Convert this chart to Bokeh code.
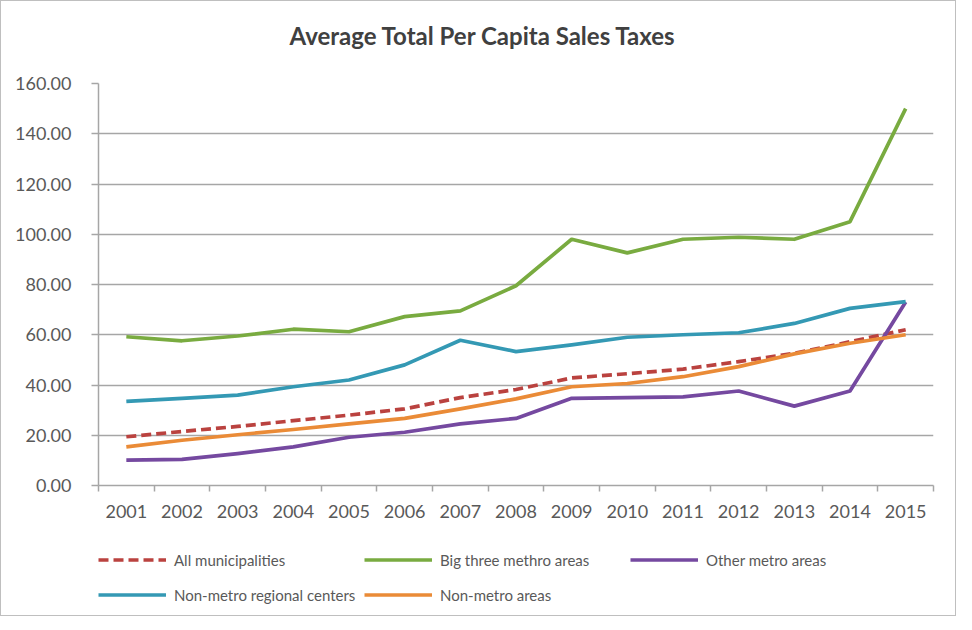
from bokeh.plotting import figure
from bokeh.layouts import column
from bokeh.models import (ColumnDataSource, Legend, LegendItem, FixedTicker,
                          NumeralTickFormatter, Range1d, Title)
from bokeh.embed import file_html
from bokeh.resources import INLINE

years = ["2001", "2002", "2003", "2004", "2005", "2006", "2007", "2008",
         "2009", "2010", "2011", "2012", "2013", "2014", "2015"]

all_municipalities = [19.4, 21.5, 23.5, 25.8, 28.0, 30.5, 35.0, 38.2,
                      42.8, 44.5, 46.3, 49.3, 52.6, 57.2, 62.0]
big_three_metro = [59.2, 57.6, 59.5, 62.2, 61.2, 67.2, 69.5, 79.5,
                   98.0, 92.6, 98.0, 98.8, 98.0, 105.0, 150.0]
other_metro = [10.1, 10.4, 12.7, 15.4, 19.2, 21.2, 24.5, 26.7,
               34.7, 35.0, 35.3, 37.6, 31.6, 37.6, 73.0]
nonmetro_regional = [33.5, 34.7, 36.0, 39.3, 42.0, 48.0, 57.8, 53.3,
                     56.0, 59.0, 60.0, 60.8, 64.5, 70.5, 73.2]
nonmetro_areas = [15.4, 18.0, 20.2, 22.3, 24.5, 26.7, 30.5, 34.5,
                  39.3, 40.6, 43.3, 47.3, 52.4, 56.6, 60.0]

series_names = ["All municipalities", "Big three methro areas", "Other metro areas",
                "Non-metro regional centers", "Non-metro areas"]
series_values = [all_municipalities, big_three_metro, other_metro,
                 nonmetro_regional, nonmetro_areas]
series_colors = ["#BA423F", "#79AB40", "#7549A0", "#3499B4", "#EA8B37"]
series_dash = ["10 5", "solid", "solid", "solid", "solid"]

y_ticks = [0, 20, 40, 60, 80, 100, 120, 140, 160]

FONT = "Lato"
TEXT = "#595959"
GRID = "#A6A6A6"

xs = list(range(1, len(years) + 1))
bounds = [i + 0.5 for i in range(0, len(years) + 1)]

W = 954


def strip(height, top):
    f = figure(width=W, height=height, output_backend="svg", toolbar_location=None,
               x_axis_location=None, y_axis_location=None,
               x_range=Range1d(0, 1), y_range=Range1d(0, 1),
               min_border_left=0, min_border_right=0, min_border_top=top,
               min_border_bottom=0)
    f.outline_line_color = None
    f.xgrid.grid_line_color = None
    f.ygrid.grid_line_color = None
    f.border_fill_color = "white"
    f.background_fill_color = "white"
    return f


# title strip
ts = strip(60, 48)
t = Title(text="Average Total Per Capita Sales Taxes", align="left",
          text_font=FONT, text_font_size="24px", text_font_style="bold",
          text_color="#404040", offset=191, standoff=0)
ts.add_layout(t, "above")

# main chart
p = figure(width=W, height=470, output_backend="svg", toolbar_location=None,
           x_range=Range1d(0.5, len(years) + 0.5), y_range=Range1d(0, 160),
           min_border_left=97, min_border_right=22, min_border_top=22,
           min_border_bottom=46)
p.outline_line_color = None
p.background_fill_color = "white"
p.border_fill_color = "white"

# y axis
p.yaxis.ticker = FixedTicker(ticks=y_ticks)
p.yaxis.formatter = NumeralTickFormatter(format="0.00")
p.yaxis.major_tick_out = 7
p.yaxis.major_tick_in = 0
p.yaxis.minor_tick_line_color = None
p.yaxis.axis_line_color = GRID
p.yaxis.axis_line_width = 1.5
p.yaxis.major_tick_line_color = GRID
p.yaxis.major_tick_line_width = 1.5
p.yaxis.major_label_text_font = FONT
p.yaxis.major_label_text_font_size = "18px"
p.yaxis.major_label_text_color = TEXT
p.yaxis.major_label_standoff = 20

# x axis: labels at category centers, tick marks at category boundaries
p.xaxis.ticker = FixedTicker(ticks=xs, minor_ticks=bounds)
p.xaxis.major_label_overrides = {x: y for x, y in zip(xs, years)}
p.xaxis.major_tick_out = 0
p.xaxis.major_tick_in = 0
p.xaxis.minor_tick_out = 6
p.xaxis.minor_tick_in = 0
p.xaxis.minor_tick_line_color = GRID
p.xaxis.minor_tick_line_width = 1.5
p.xaxis.axis_line_color = GRID
p.xaxis.axis_line_width = 1.5
p.xaxis.major_label_text_font = FONT
p.xaxis.major_label_text_font_size = "18px"
p.xaxis.major_label_text_color = TEXT
p.xaxis.major_label_standoff = 13

p.xgrid.grid_line_color = None
p.ygrid.grid_line_color = GRID
p.ygrid.grid_line_width = 1.5

for name, vals, col, dash in zip(series_names, series_values, series_colors, series_dash):
    src = ColumnDataSource(dict(x=xs, y=vals))
    p.line("x", "y", source=src, line_color=col, line_width=3.7,
           line_dash=dash, line_join="round")

# legend strip below the chart
lg = strip(84, 0)
nan = float("nan")
items = []
for name, col, dash in zip(series_names, series_colors, series_dash):
    r = lg.line(x=[nan, nan], y=[nan, nan], line_color=col, line_width=3.7,
                line_dash=dash)
    items.append(LegendItem(label=name, renderers=[r]))

legend = Legend(items=items, orientation="horizontal", ncols=3,
                glyph_width=68, glyph_height=35, label_width=190,
                label_height=35, label_standoff=8, spacing=0, padding=0,
                margin=0, label_text_font=FONT, label_text_font_size="15px",
                label_text_color=TEXT, border_line_color=None,
                background_fill_alpha=0, location=(0, 3))
lg.add_layout(legend, "center")

layout = column(ts, p, lg, spacing=0,
                styles={"border": "1px solid #BFBFBF", "background": "white"})

open("out.html", "w").write(file_html(layout, INLINE))
